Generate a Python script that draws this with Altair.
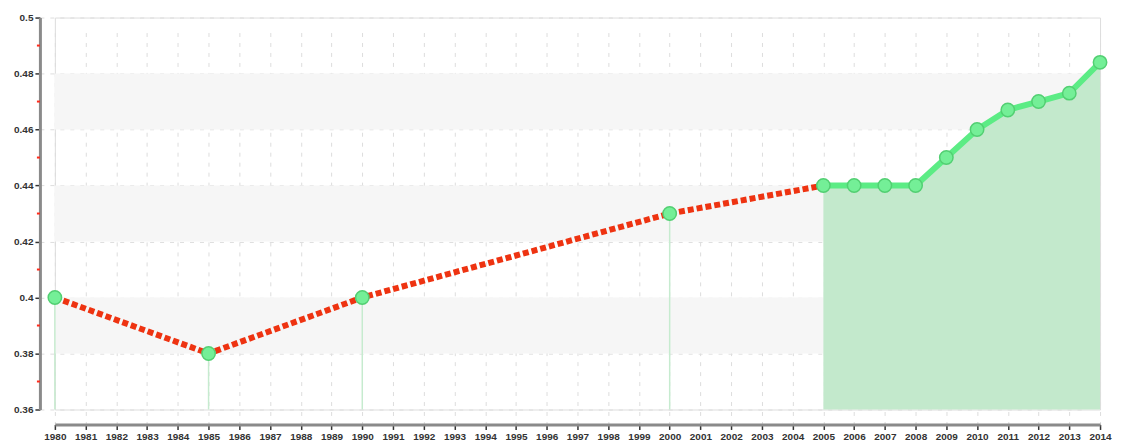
import altair as alt
import pandas as pd

years = list(range(1980, 2015))
y_major = [0.36, 0.38, 0.40, 0.42, 0.44, 0.46, 0.48, 0.50]
y_minor = [0.37, 0.39, 0.41, 0.43, 0.45, 0.47, 0.49]
band_lo = [0.38, 0.42, 0.46]
band_hi = [0.40, 0.44, 0.48]

red_years = [1980, 1985, 1990, 2000, 2005]
red_vals = [0.40, 0.38, 0.40, 0.43, 0.44]

green_years = [2005, 2006, 2007, 2008, 2009, 2010, 2011, 2012, 2013, 2014]
green_vals = [0.44, 0.44, 0.44, 0.44, 0.45, 0.46, 0.467, 0.47, 0.473, 0.484]

W, H = 1048, 393
YMIN, YMAX = 0.36, 0.50

red_df = pd.DataFrame({"year": red_years, "v": red_vals})
green_df = pd.DataFrame({"year": green_years, "v": green_vals})
stem_df = red_df[red_df.year < 2005]
pts_df = pd.concat([stem_df, green_df], ignore_index=True)
band_df = pd.DataFrame({"lo": band_lo, "hi": band_hi})
minor_df = pd.DataFrame({"v": y_minor})

xscale = alt.Scale(domain=[1980, 2014], nice=False, zero=False)
yscale = alt.Scale(domain=[YMIN, YMAX], nice=False, zero=False)

xaxis = alt.Axis(values=years, format="d", title=None, labelOverlap=False,
                 labelFlush=False)
yaxis = alt.Axis(values=y_major, format="~g", title=None)

X = alt.X("year:Q", scale=xscale, axis=xaxis)
Y = alt.Y("v:Q", scale=yscale, axis=yaxis)

bands = alt.Chart(band_df).mark_rect(color="#f6f6f6").encode(
    x=alt.value(0), x2=alt.value(W),
    y=alt.Y("lo:Q", scale=yscale, axis=yaxis), y2="hi:Q")

area = alt.Chart(green_df).mark_area(color="#c3e9cc", opacity=1).encode(
    x=X, y=Y, y2=alt.datum(YMIN))

stems = alt.Chart(stem_df).mark_rule(color="#c6ebcf", strokeWidth=1.5).encode(
    x=X, y=Y, y2=alt.datum(YMIN))

red_line = alt.Chart(red_df).mark_line(color="#ee3311", strokeWidth=6,
                                       strokeDash=[6, 3]).encode(x=X, y=Y)

green_line = alt.Chart(green_df).mark_line(color="#5cec85", strokeWidth=6).encode(
    x=X, y=Y)

points = alt.Chart(pts_df).mark_point(filled=True, shape="circle", size=180,
                                      fill="#74ef97", stroke="#52cf72",
                                      strokeWidth=1.5, opacity=1).encode(x=X, y=Y)

minor = alt.Chart(minor_df).mark_rule(color="#ff2a1a", strokeWidth=2).encode(
    x=alt.value(-18), x2=alt.value(-15), y=alt.Y("v:Q", scale=yscale, axis=yaxis))

chart = alt.layer(bands, area, stems, red_line, green_line, points, minor).properties(
    width=W, height=H,
    autosize=alt.AutoSizeParams(type="none"),
    padding={"left": 47, "top": 9, "right": 14, "bottom": 32},
).configure_view(stroke=None).configure(background="white").configure_axis(
    offset=15, grid=True, gridColor="#dddddd", gridDash=[4, 6], gridWidth=1,
    domain=True, domainColor="#8a8a8a", domainWidth=3, tickColor="#333333",
    tickSize=5, tickWidth=1.5, labelFont="Liberation Sans", labelFontSize=10,
    labelFontWeight="bold", labelColor="#333333", labelPadding=2)

chart.save("out.html", embed_options={"renderer": "svg", "actions": False})
